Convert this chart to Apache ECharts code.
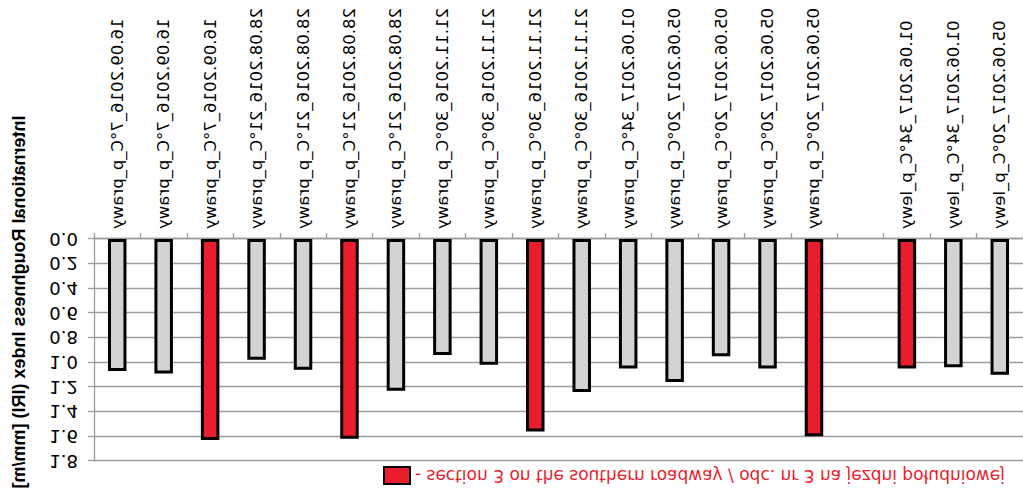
<!DOCTYPE html>
<html lang="en">
  <head>
    <meta charset="UTF-8" />
    <title>IRI chart</title>
    <script src="https://cdn.jsdelivr.net/npm/echarts@6.0.0/dist/echarts.min.js"></script>
    <style>
      html, body { margin: 0; padding: 0; background: #fff; }
      /* the reference picture is mirrored top-to-bottom */
      #main { width: 1023px; height: 495px; transform: scaleY(-1); }
    </style>
  </head>
  <body>
    <div id="main"></div>
    <script type="text/javascript">
      // categories (empty slot separates the right-lane measurements)
      const categories = [
        "16.09.2016_7°C_p_prawy", "16.09.2016_7°C_p_prawy", "16.09.2016_7°C_p_prawy",
        "28.08.2016_21°C_p_prawy", "28.08.2016_21°C_p_prawy", "28.08.2016_21°C_p_prawy", "28.08.2016_21°C_p_prawy",
        "21.11.2016_30°C_p_prawy", "21.11.2016_30°C_p_prawy", "21.11.2016_30°C_p_prawy", "21.11.2016_30°C_p_prawy",
        "01.06.2017_34°C_p_prawy",
        "05.06.2017_20°C_p_prawy", "05.06.2017_20°C_p_prawy", "05.06.2017_20°C_p_prawy", "05.06.2017_20°C_p_prawy",
        "",
        "01.06.2017_34°C_p_lewy", "01.06.2017_34°C_p_lewy", "05.06.2017_20°C_p_lewy"
      ];

      // other sections (grey bars)
      const otherSections = [
        1.07, 1.09, null,
        0.98, 1.06, null, 1.23,
        0.94, 1.02, null, 1.24,
        1.05,
        1.16, 0.95, 1.05, null,
        null,
        null, 1.04, 1.10
      ];

      // section 3 on the southern roadway (red bars)
      const section3 = [
        null, null, 1.63,
        null, null, 1.62, null,
        null, null, 1.56, null,
        null,
        null, null, null, 1.60,
        null,
        1.05, null, null
      ];

      const legendName = "- section 3 on the southern roadway / odc. nr 3 na jezdni południowej";
      const yTicks = { min: 0, max: 1.8, step: 0.2 };

      const font = "DejaVu Sans";
      const gridGrey = "#9d9d9d";

      let myChart = echarts.init(document.getElementById("main"), null, { renderer: "svg" });

      let options = {
        animation: false,
        backgroundColor: "#fff",
        grid: { left: 94, right: 0, top: 34, bottom: 239 },
        legend: {
          data: [legendName],
          icon: "rect",
          left: 383,
          top: 10,
          padding: 0,
          itemWidth: 26,
          itemHeight: 17,
          itemGap: 5,
          textStyle: { color: "#e91d2d", fontSize: 17, fontFamily: font }
        },
        xAxis: {
          type: "category",
          data: categories,
          axisLine: { lineStyle: { color: gridGrey, width: 1.3 } },
          axisTick: { show: true, length: 6, interval: 0, lineStyle: { color: gridGrey, width: 1.3 } },
          axisLabel: {
            interval: 0,
            rotate: 90,
            margin: 10,
            color: "#000",
            fontSize: 16.5,
            fontFamily: font
          }
        },
        yAxis: {
          type: "value",
          min: yTicks.min,
          max: yTicks.max,
          interval: yTicks.step,
          name: "International Roughness Index (IRI) [mm/m]",
          nameLocation: "middle",
          nameGap: 66,
          nameTextStyle: {
            fontFamily: "Liberation Sans",
            fontWeight: "bold",
            fontSize: 18,
            color: "#000",
            padding: [0, 96, 0, 0]
          },
          axisLine: { show: true, lineStyle: { color: gridGrey, width: 1.3 } },
          axisTick: { show: true, length: 6, lineStyle: { color: gridGrey, width: 1.3 } },
          splitLine: { lineStyle: { color: gridGrey, width: 1.3 } },
          axisLabel: {
            margin: 16,
            color: "#000",
            fontSize: 18,
            fontFamily: font,
            formatter: (v) => v.toFixed(1)
          }
        },
        series: [
          {
            name: "other",
            type: "bar",
            data: otherSections,
            barWidth: 18.5,
            barGap: "-100%",
            itemStyle: { color: "#d3d3d3", borderColor: "#000", borderWidth: 3 }
          },
          {
            name: legendName,
            type: "bar",
            data: section3,
            barWidth: 18.5,
            barGap: "-100%",
            itemStyle: { color: "#e91d2d", borderColor: "#000", borderWidth: 3 }
          }
        ]
      };

      myChart.setOption(options);
    </script>
  </body>
</html>
